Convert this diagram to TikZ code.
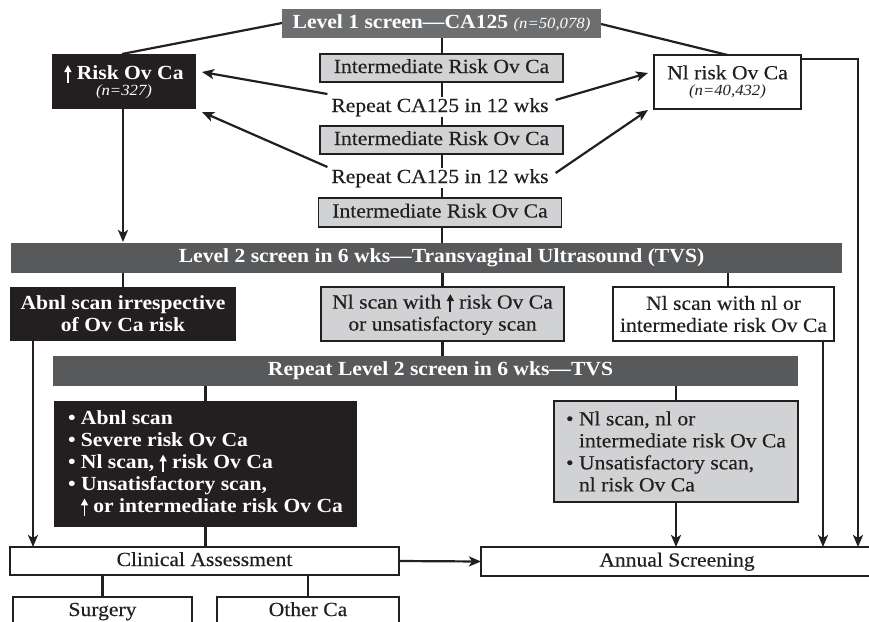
\documentclass[tikz,border=0pt]{standalone}
\usepackage{fontspec}
\setmainfont{Liberation Serif}[FakeStretch=1.08, UprightFeatures={FakeBold=0.35}]
\usetikzlibrary{arrows.meta,calc,backgrounds}
\definecolor{cBarA}{HTML}{6D6E70}
\definecolor{cBarB}{HTML}{58595B}
\definecolor{cGray}{HTML}{D1D2D4}
\definecolor{cBlack}{HTML}{231F20}
\newcommand\upar[1]{\tikz[baseline=0pt]\draw[#1,line width=1.9pt,-{Triangle[length=7pt,width=7pt]}] (0pt,-3pt) -- (0pt,14.5pt);}
\newcommand\smallit{\fontsize{15.5}{17}\selectfont\mdseries\itshape}
\begin{document}
\begin{tikzpicture}[x=1pt,y=-1pt,
  every node/.style={font=\fontsize{20}{22}\selectfont, inner sep=0pt, outer sep=0pt},
  one/.style={text height=14pt, text depth=4pt},
  barA/.style={fill=cBarA, text=white, font=\fontsize{20}{22}\selectfont\bfseries},
  barB/.style={fill=cBarB},
  bartext/.style={text=white, font=\fontsize{20}{22}\selectfont\bfseries},
  graybox/.style={draw=cBlack, line width=1.4pt, fill=cGray, text=cBlack},
  whitebox/.style={draw=cBlack, line width=1.4pt, fill=white, text=cBlack},
  blackbox/.style={fill=cBlack, text=white, font=\fontsize{20}{22}\selectfont\bfseries},
  conn/.style={draw=cBlack, line width=2.2pt},
  arr/.style={conn, -{Stealth[length=12pt,width=10pt,inset=3pt]}}
]
\useasboundingbox (0,0) rectangle (869,621);

% level 1
\node[barA, minimum width=319pt, minimum height=29pt] (lvl1) at (441.5,23.5)
  {Level 1 screen—CA125 {\smallit (n=50,078)}};
\node[blackbox, minimum width=144pt, minimum height=55pt, align=center] (risk) at (124,81.5)
  {\upar{white} Risk Ov Ca\\[-6pt]{\smallit (n=327)}};
\node[whitebox, minimum width=147pt, minimum height=54pt, align=center] (nlrisk) at (727.5,82)
  {Nl risk Ov Ca\\[-6pt]{\smallit (n=40,432)}};
\node[graybox, one, minimum width=243pt, minimum height=28pt] (int1) at (441.5,68) {Intermediate Risk Ov Ca};
\node[graybox, one, minimum width=243pt, minimum height=28pt] (int2) at (441.5,140) {Intermediate Risk Ov Ca};
\node[graybox, one, minimum width=243pt, minimum height=29pt] (int3) at (440,212.5) {Intermediate Risk Ov Ca};
\node[one, fill=white, text=cBlack, inner xsep=2pt, inner ysep=1pt] (rep1) at (440,107) {Repeat CA125 in 12 wks};
\node[one, fill=white, text=cBlack, inner xsep=2pt, inner ysep=1pt] (rep2) at (440,178) {Repeat CA125 in 12 wks};

% level 2
\node[barB, minimum width=831pt, minimum height=30pt] (lvl2) at (426.5,258) {};
\node[bartext] (lvl2t) at (441.5,258) {Level 2 screen in 6 wks—Transvaginal Ultrasound (TVS)};
\node[blackbox, minimum width=226pt, minimum height=54pt, align=center] (abnl) at (123,314)
  {Abnl scan irrespective\\of Ov Ca risk};
\node[graybox, minimum width=243pt, minimum height=54pt, align=center] (nlup) at (442.5,314)
  {Nl scan with \upar{cBlack} risk Ov Ca\\or unsatisfactory scan};
\node[whitebox, minimum width=221pt, minimum height=54pt, align=center] (nlint) at (723.5,314)
  {Nl scan with nl or\\intermediate risk Ov Ca};

% repeat level 2
\node[barB, minimum width=745pt, minimum height=30pt] (rep2bar) at (425.5,371) {};
\node[bartext] (rep2bart) at (440.5,371) {Repeat Level 2 screen in 6 wks—TVS};
\node[blackbox, minimum width=303pt, minimum height=126pt, align=left] (blist) at (205.5,464)
  {• Abnl scan\\
   • Severe risk Ov Ca\\
   • Nl scan, \upar{white} risk Ov Ca\\
   • Unsatisfactory scan,\\
   \hphantom{• }\upar{white} or intermediate risk Ov Ca};
\node[graybox, minimum width=244pt, minimum height=101pt, align=left] (glist) at (676,451.5)
  {• Nl scan, nl or\\
   \hphantom{• }intermediate risk Ov Ca\\
   • Unsatisfactory scan,\\
   \hphantom{• }nl risk Ov Ca};

% outcomes
\node[whitebox, one, minimum width=389pt, minimum height=28pt] (clin) at (204.5,561) {Clinical Assessment};
\node[whitebox, one, minimum width=392pt, minimum height=29pt] (annual) at (677,561.5) {Annual Screening};
\node[whitebox, one, minimum width=179pt, minimum height=28pt] (surg) at (102.5,611) {Surgery};
\node[whitebox, one, minimum width=182pt, minimum height=28pt] (other) at (308,611) {Other Ca};

\begin{pgfonlayer}{background}
  % top
  \draw[conn] ($(lvl1.west)+(0,-0.5)$) -- ($(risk.north)+(-2,0)$);
  \draw[conn] ($(lvl1.east)+(0,0.5)$) -- (nlrisk.north);
  \draw[conn] ($(lvl1.south)+(0.5,0)$) -- ($(lvl2.north -| lvl1.south)+(0.5,0)$);
  \draw[arr] ($(rep1.west)+(-2,-13)$) -- ($(risk.east)+(6,-9.5)$);
  \draw[arr] ($(rep2.west)+(-2,-11)$) -- ($(risk.south east)+(6,3)$);
  \draw[arr] ($(rep1.east)+(5,-7)$) -- ($(nlrisk.west)+(-6,-9)$);
  \draw[arr] ($(rep2.east)+(5,-5)$) -- ($(nlrisk.south west)+(-6,1)$);
  \draw[arr] ($(nlrisk.north east)+(0,4)$) -| ($(annual.north east)+(-15,0)$);
  \draw[arr] ($(risk.south)+(-1,0)$) -- ($(lvl2.north -| risk.south)+(-1,-1)$);
  % level 2
  \draw[conn] (lvl2.south -| abnl.north) -- (abnl.north);
  \draw[conn] (lvl2.south -| nlup.north) -- (nlup.north);
  \draw[conn] ($(lvl2.south -| nlint.north)+(4.5,0)$) -- ($(nlint.north)+(4.5,0)$);
  \draw[conn] (nlup.south) -- (rep2bar.north -| nlup.south);
  \draw[arr] ($(abnl.south west)+(23,0)$) -- ($(clin.north west)+(23,0)$);
  \draw[arr] ($(nlint.south east)+(-11,0)$) -- ($(annual.north -| nlint.south east)+(-11,0)$);
  % repeat level 2
  \draw[conn] (rep2bar.south -| blist.north) -- (blist.north);
  \draw[conn] (rep2bar.south -| glist.north) -- (glist.north);
  \draw[conn] (blist.south) -- (clin.north -| blist.south);
  \draw[arr] (glist.south) -- (annual.north -| glist.south);
  \draw[arr] (clin.east) -- (annual.west);
  \draw[conn] (clin.south -| surg.north) -- (surg.north);
  \draw[conn] (clin.south -| other.north) -- (other.north);
\end{pgfonlayer}
\end{tikzpicture}
\end{document}
